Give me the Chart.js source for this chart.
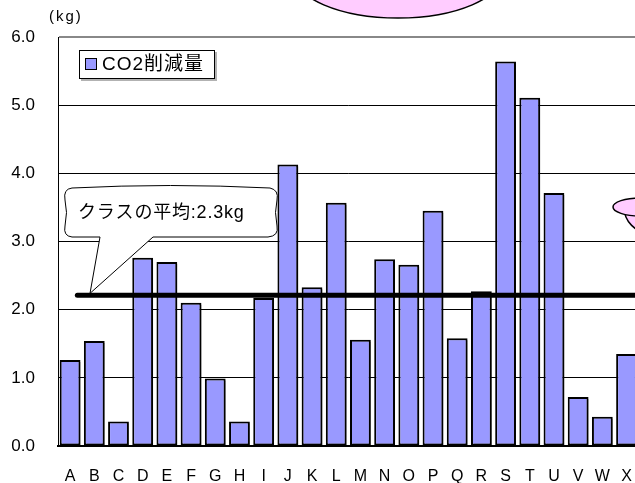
<!DOCTYPE html>
<html>
<head>
<meta charset="utf-8">
<script src="https://cdn.jsdelivr.net/npm/chart.js@4"></script>
<style>
  html, body { margin: 0; padding: 0; background: #fff; overflow: hidden; }
  #wrap { width: 645px; height: 483px; }
</style>
</head>
<body>
<div id="wrap"><canvas id="co2Chart" width="645" height="483"></canvas></div>
<script>
// データ
const students = ['A','B','C','D','E','F','G','H','I','J','K','L','M','N','O','P','Q','R','S','T','U','V','W','X'];
const reduction = [1.26, 1.54, 0.36, 2.76, 2.70, 2.10, 0.99, 0.36, 2.17, 4.13, 2.33, 3.57, 1.56, 2.74, 2.66, 3.45, 1.58, 2.27, 5.64, 5.11, 3.71, 0.72, 0.43, 1.35];
const classAverage = 2.21;
const averageLabel = 'クラスの平均:2.3kg';
const seriesLabel = 'CO2削減量';
const yTicks = [0, 1, 2, 3, 4, 5, 6];

const FONT = '"Liberation Sans", "Noto Sans CJK JP", sans-serif';
const BAR_COLOR = '#9999FF';

// 棒の影
const barShadow = {
  id: 'barShadow',
  beforeDatasetDraw(chart, args) {
    if (args.index !== 0) return;
    const ctx = chart.ctx;
    ctx.save();
    ctx.shadowColor = 'rgba(0,0,0,0.35)';
    ctx.shadowOffsetX = 3;
    ctx.shadowOffsetY = 2;
    ctx.shadowBlur = 0;
  },
  afterDatasetDraw(chart, args) {
    if (args.index !== 0) return;
    chart.ctx.restore();
  }
};

// 凡例・吹き出し・飾り
const decorations = {
  id: 'decorations',
  afterDraw(chart) {
    const ctx = chart.ctx;
    const y = chart.scales.y;
    ctx.save();

    // (kg)
    ctx.fillStyle = '#000';
    ctx.font = '15px ' + FONT;
    ctx.textBaseline = 'middle';
    ctx.letterSpacing = '2px';
    ctx.fillText('(kg)', 49, 17);

    // 凡例
    ctx.letterSpacing = '0px';
    ctx.fillStyle = 'rgba(0,0,0,0.3)';
    ctx.fillRect(81, 52, 136, 29);
    ctx.fillStyle = '#fff';
    ctx.fillRect(79, 50, 136, 29);
    ctx.strokeStyle = '#000';
    ctx.lineWidth = 1;
    ctx.strokeRect(79.5, 50.5, 135, 28);
    ctx.fillStyle = BAR_COLOR;
    ctx.fillRect(85, 58, 12, 12);
    ctx.strokeRect(85.5, 58.5, 11, 11);
    ctx.fillStyle = '#000';
    ctx.font = '19px ' + FONT;
    ctx.textBaseline = 'middle';
    ctx.letterSpacing = '1px';
    ctx.fillText(seriesLabel, 102, 65);

    // 吹き出し
    const avgY = y.getPixelForValue(classAverage);
    ctx.letterSpacing = '0px';
    ctx.beginPath();
    ctx.moveTo(72, 188);
    ctx.quadraticCurveTo(170, 183, 270, 188);
    ctx.quadraticCurveTo(279, 190, 277, 200);
    ctx.quadraticCurveTo(274, 212, 277, 226);
    ctx.quadraticCurveTo(279, 236, 268, 237);
    ctx.lineTo(153, 237);
    ctx.lineTo(90, avgY - 2);
    ctx.lineTo(100, 237);
    ctx.lineTo(72, 237);
    ctx.quadraticCurveTo(63, 236, 65, 226);
    ctx.quadraticCurveTo(68, 212, 65, 200);
    ctx.quadraticCurveTo(63, 189, 72, 188);
    ctx.closePath();
    ctx.fillStyle = '#fff';
    ctx.fill();
    ctx.strokeStyle = '#000';
    ctx.lineWidth = 1;
    ctx.stroke();
    ctx.fillStyle = '#000';
    ctx.font = '18px ' + FONT;
    ctx.textBaseline = 'middle';
    ctx.letterSpacing = '0.8px';
    ctx.fillText(averageLabel, 78, 213);
    ctx.letterSpacing = '0px';

    // 上のピンクの楕円
    ctx.beginPath();
    ctx.ellipse(398, -27, 105, 45, 0, 0, Math.PI * 2);
    ctx.fillStyle = '#FFCCFF';
    ctx.fill();
    ctx.lineWidth = 1.5;
    ctx.strokeStyle = '#000';
    ctx.stroke();

    // 右端のピンクの図形
    ctx.beginPath();
    ctx.arc(650, 207, 26, 0, Math.PI);
    ctx.closePath();
    ctx.fillStyle = '#FFCCFF';
    ctx.fill();
    ctx.stroke();
    ctx.beginPath();
    ctx.ellipse(640, 207, 27, 9, 0, 0, Math.PI * 2);
    ctx.fill();
    ctx.stroke();

    ctx.restore();
  }
};

const ctx = document.getElementById('co2Chart').getContext('2d');
new Chart(ctx, {
  data: {
    labels: students,
    datasets: [
      {
        type: 'bar',
        label: seriesLabel,
        data: reduction,
        backgroundColor: BAR_COLOR,
        borderColor: '#000',
        borderWidth: 2,
        borderSkipped: false,
        grouped: false,
        categoryPercentage: 1,
        barPercentage: 0.86,
        order: 2
      },
      {
        type: 'line',
        label: averageLabel,
        data: [{ x: 0.3, y: classAverage }, { x: 24, y: classAverage }],
        xAxisID: 'x2',
        borderColor: '#000',
        borderWidth: 5,
        borderCapStyle: 'round',
        pointRadius: 0,
        fill: false,
        order: 1
      }
    ]
  },
  options: {
    responsive: false,
    animation: false,
    layout: { padding: { top: 37, right: 6, left: 0, bottom: 0 } },
    plugins: {
      legend: { display: false },
      tooltip: { enabled: false }
    },
    scales: {
      x: {
        type: 'category',
        offset: true,
        grid: { display: false },
        border: { display: true, color: '#000', width: 2 },
        ticks: {
          color: '#000',
          font: { family: FONT, size: 16 },
          padding: 13,
          maxRotation: 0,
          autoSkip: false
        },
        afterFit: s => { s.height = 37; }
      },
      x2: {
        type: 'linear',
        display: false,
        min: -0.5,
        max: 23.5
      },
      y: {
        min: yTicks[0],
        max: yTicks[yTicks.length - 1],
        afterBuildTicks: s => { s.ticks = yTicks.map(v => ({ value: v })); },
        ticks: {
          color: '#000',
          font: { family: FONT, size: 17 },
          padding: 23,
          callback: v => v.toFixed(1)
        },
        grid: {
          drawTicks: false,
          color: c => c.tick && c.tick.value === 6 ? '#888' : '#000',
          lineWidth: c => c.tick && c.tick.value === 6 ? 2 : 1
        },
        border: { display: true, color: '#000', width: 1 },
        afterFit: s => { s.width = 58; }
      }
    }
  },
  plugins: [barShadow, decorations]
});
</script>
</body>
</html>
